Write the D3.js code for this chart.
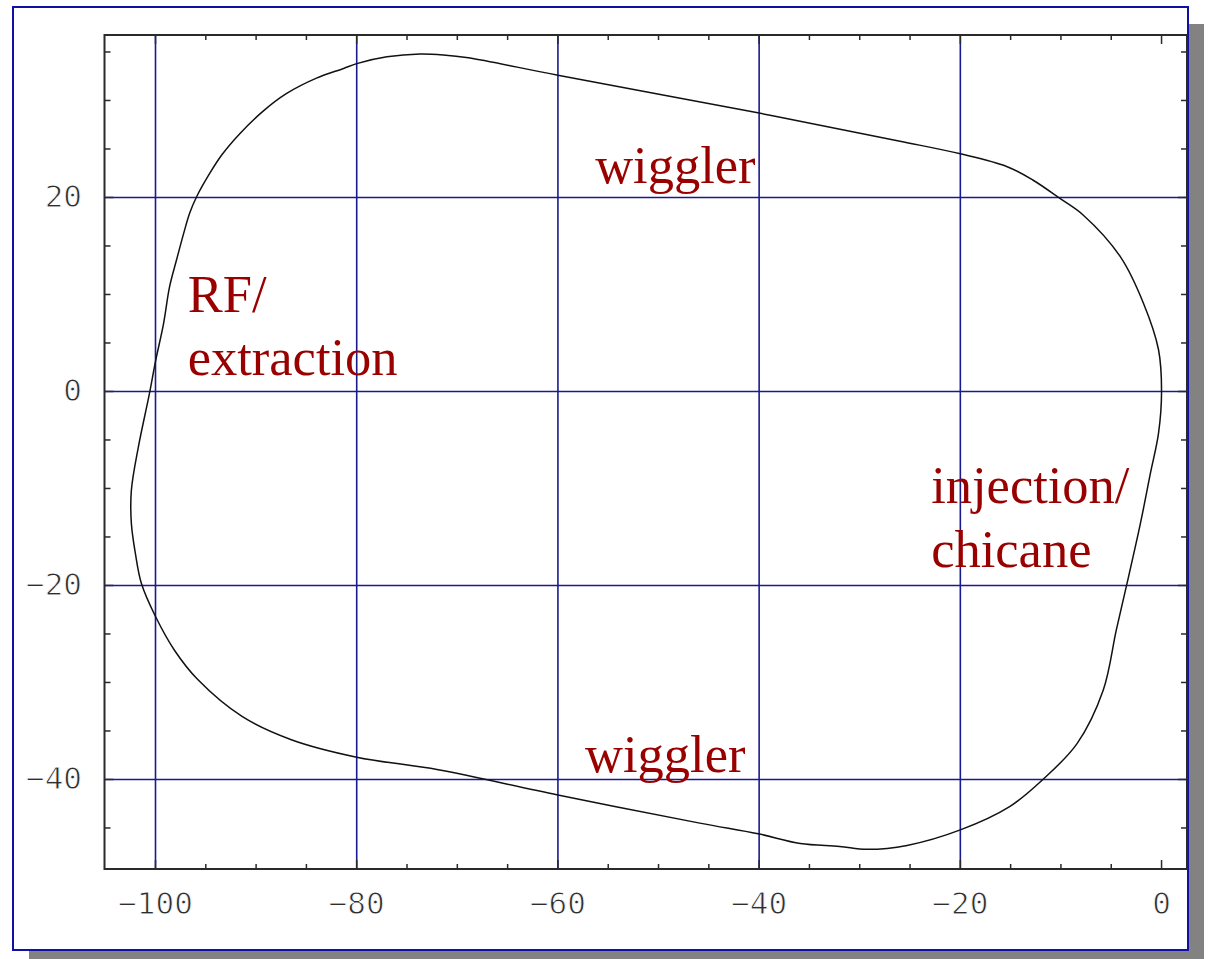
<!DOCTYPE html>
<html>
<head>
<meta charset="utf-8">
<script src="https://cdn.jsdelivr.net/npm/d3@7"></script>
<style>
  html, body { margin: 0; padding: 0; background: #fff; }
  svg { display: block; }
</style>
</head>
<body>
<svg id="chart" width="1209" height="959"></svg>
<script>
// Ring outline (x, y in metres), traced around the closed orbit
const ringX = [0.0, -0.3, -1.8, -4.1, -7.8, -10.1, -12.8, -15.4, -20.0, -26.0,
  -40.0, -60.0, -68.9, -71.4, -73.7, -77.0, -80.0, -81.3, -84.0, -87.0,
  -89.3, -91.6, -93.4, -94.6, -95.9, -96.6, -97.2, -97.9, -98.6, -99.2,
  -100.0, -100.6, -101.7, -102.4, -102.4, -102.0, -101.4, -100.0, -98.1, -95.8,
  -91.4, -86.5, -80.0, -71.9, -60.0, -45.9, -40.1, -35.9, -32.0, -29.3,
  -25.3, -20.0, -15.1, -11.9, -8.4, -5.8, -4.5, -3.5, -2.1, -1.1, -0.3];
const ringY = [0.0, 4.3, 9.1, 13.9, 18.2, 19.9, 21.8, 23.2, 24.5, 25.8,
  28.7, 32.6, 34.4, 34.7, 34.8, 34.5, 33.8, 33.3, 32.3, 30.7,
  28.9, 26.6, 24.4, 22.5, 20.1, 18.4, 16.3, 13.6, 10.8, 7.0,
  3.1, -0.2, -5.7, -10.2, -13.6, -16.7, -19.8, -23.2, -26.7, -29.7,
  -33.5, -35.9, -37.7, -39.0, -41.6, -44.5, -45.6, -46.6, -46.9, -47.2,
  -46.8, -45.2, -42.8, -40.1, -36.3, -30.8, -24.6, -20.1, -13.6, -8.4, -4.3];

// Axis ticks
const xTickValues = [-100, -80, -60, -40, -20, 0];
const xTickLabels = ["\u2212100", "\u221280", "\u221260", "\u221240", "\u221220", "0"];
const yTickValues = [20, 0, -20, -40];
const yTickLabels = ["20", "0", "\u221220", "\u221240"];
const xMinorTicks = d3.range(-100, 1, 5);
const yMinorTicks = d3.range(-45, 36, 5);
const xGridValues = [-100, -80, -60, -40, -20];
const yGridValues = [20, 0, -20, -40];

// Section annotations
const sectionNames = ["wiggler", "wiggler", "RF/", "extraction", "injection/", "chicane"];
const sectionX = [-56.3, -57.3, -96.8, -96.8, -22.9, -22.9];
const sectionY = [21.5, -39.2, 8.2, 1.7, -11.5, -18.1];

const svg = d3.select("#chart");

// Panel with drop shadow
const frame = { x: 13, y: 7, w: 1175, h: 943 };
svg.append("rect")
  .attr("x", frame.x + 16).attr("y", frame.y + 17)
  .attr("width", frame.w).attr("height", frame.h)
  .attr("fill", "#828282");
svg.append("rect")
  .attr("x", frame.x).attr("y", frame.y)
  .attr("width", frame.w).attr("height", frame.h)
  .attr("fill", "#ffffff")
  .attr("stroke", "#1010a8").attr("stroke-width", 2);

// Plot area
const plot = { left: 104.5, right: 1187, top: 35, bottom: 869 };
const x = d3.scaleLinear().domain([-105.07, 2.53]).range([plot.left, plot.right]);
const y = d3.scaleLinear().domain([36.75, -49.23]).range([plot.top, plot.bottom]);

const g = svg.append("g");

// Grid lines
g.selectAll("line.gx").data(xGridValues).join("line")
  .attr("class", "gx")
  .attr("x1", d => x(d)).attr("x2", d => x(d))
  .attr("y1", plot.top).attr("y2", plot.bottom)
  .attr("stroke", "#1a1a90").attr("stroke-width", 1.6);
g.selectAll("line.gy").data(yGridValues).join("line")
  .attr("class", "gy")
  .attr("x1", plot.left).attr("x2", plot.right)
  .attr("y1", d => y(d)).attr("y2", d => y(d))
  .attr("stroke", "#1a1a90").attr("stroke-width", 1.6);

// Ticks on all four sides (minor every 5, major every 20)
const isMajor = v => Math.abs(v % 20) < 1e-9;
const tickColor = "#2a2a2a";
xMinorTicks.forEach(v => {
  const len = isMajor(v) ? 9 : 5;
  g.append("line").attr("x1", x(v)).attr("x2", x(v))
    .attr("y1", plot.bottom).attr("y2", plot.bottom - len)
    .attr("stroke", tickColor).attr("stroke-width", 1.5);
  g.append("line").attr("x1", x(v)).attr("x2", x(v))
    .attr("y1", plot.top).attr("y2", plot.top + len)
    .attr("stroke", tickColor).attr("stroke-width", 1.5);
});
yMinorTicks.forEach(v => {
  const len = isMajor(v) ? 9 : 6;
  g.append("line").attr("x1", plot.left).attr("x2", plot.left + len)
    .attr("y1", y(v)).attr("y2", y(v))
    .attr("stroke", tickColor).attr("stroke-width", 1.5);
  g.append("line").attr("x1", plot.right).attr("x2", plot.right - len)
    .attr("y1", y(v)).attr("y2", y(v))
    .attr("stroke", tickColor).attr("stroke-width", 1.5);
});

// Plot box
g.append("rect")
  .attr("x", plot.left).attr("y", plot.top)
  .attr("width", plot.right - plot.left).attr("height", plot.bottom - plot.top)
  .attr("fill", "none").attr("stroke", "#2a2a2a").attr("stroke-width", 2);

// Tick labels: thin monospace digits (white outline trims the stroke weight)
const tickFont = "'DejaVu Sans Mono', 'Liberation Mono', monospace";
function styleTickText(sel) {
  sel.attr("font-family", tickFont).attr("font-size", 31)
    .attr("fill", "#2e2e2e")
    .attr("stroke", "#ffffff").attr("stroke-width", 0.9)
    .attr("paint-order", "fill");
}
g.selectAll("text.xl").data(xTickValues).join("text")
  .attr("class", "xl")
  .attr("x", d => x(d)).attr("y", 914)
  .attr("text-anchor", "middle")
  .call(styleTickText)
  .text((d, i) => xTickLabels[i]);
g.selectAll("text.yl").data(yTickValues).join("text")
  .attr("class", "yl")
  .attr("x", 82).attr("y", d => y(d) + 10)
  .attr("text-anchor", "end")
  .call(styleTickText)
  .text((d, i) => yTickLabels[i]);

// Ring outline
const pts = ringX.map((v, i) => [v, ringY[i]]);
const ring = d3.line()
  .x(d => x(d[0])).y(d => y(d[1]))
  .curve(d3.curveCatmullRomClosed.alpha(0.5));
g.append("path")
  .attr("d", ring(pts))
  .attr("fill", "none")
  .attr("stroke", "#111").attr("stroke-width", 1.5);

// Section labels
g.selectAll("text.sec").data(sectionNames).join("text")
  .attr("class", "sec")
  .attr("x", (d, i) => x(sectionX[i]))
  .attr("y", (d, i) => y(sectionY[i]))
  .attr("font-family", "'Liberation Serif', 'Times New Roman', serif")
  .attr("font-size", 52.5)
  .attr("fill", "#990000")
  .text(d => d);
</script>
</body>
</html>
